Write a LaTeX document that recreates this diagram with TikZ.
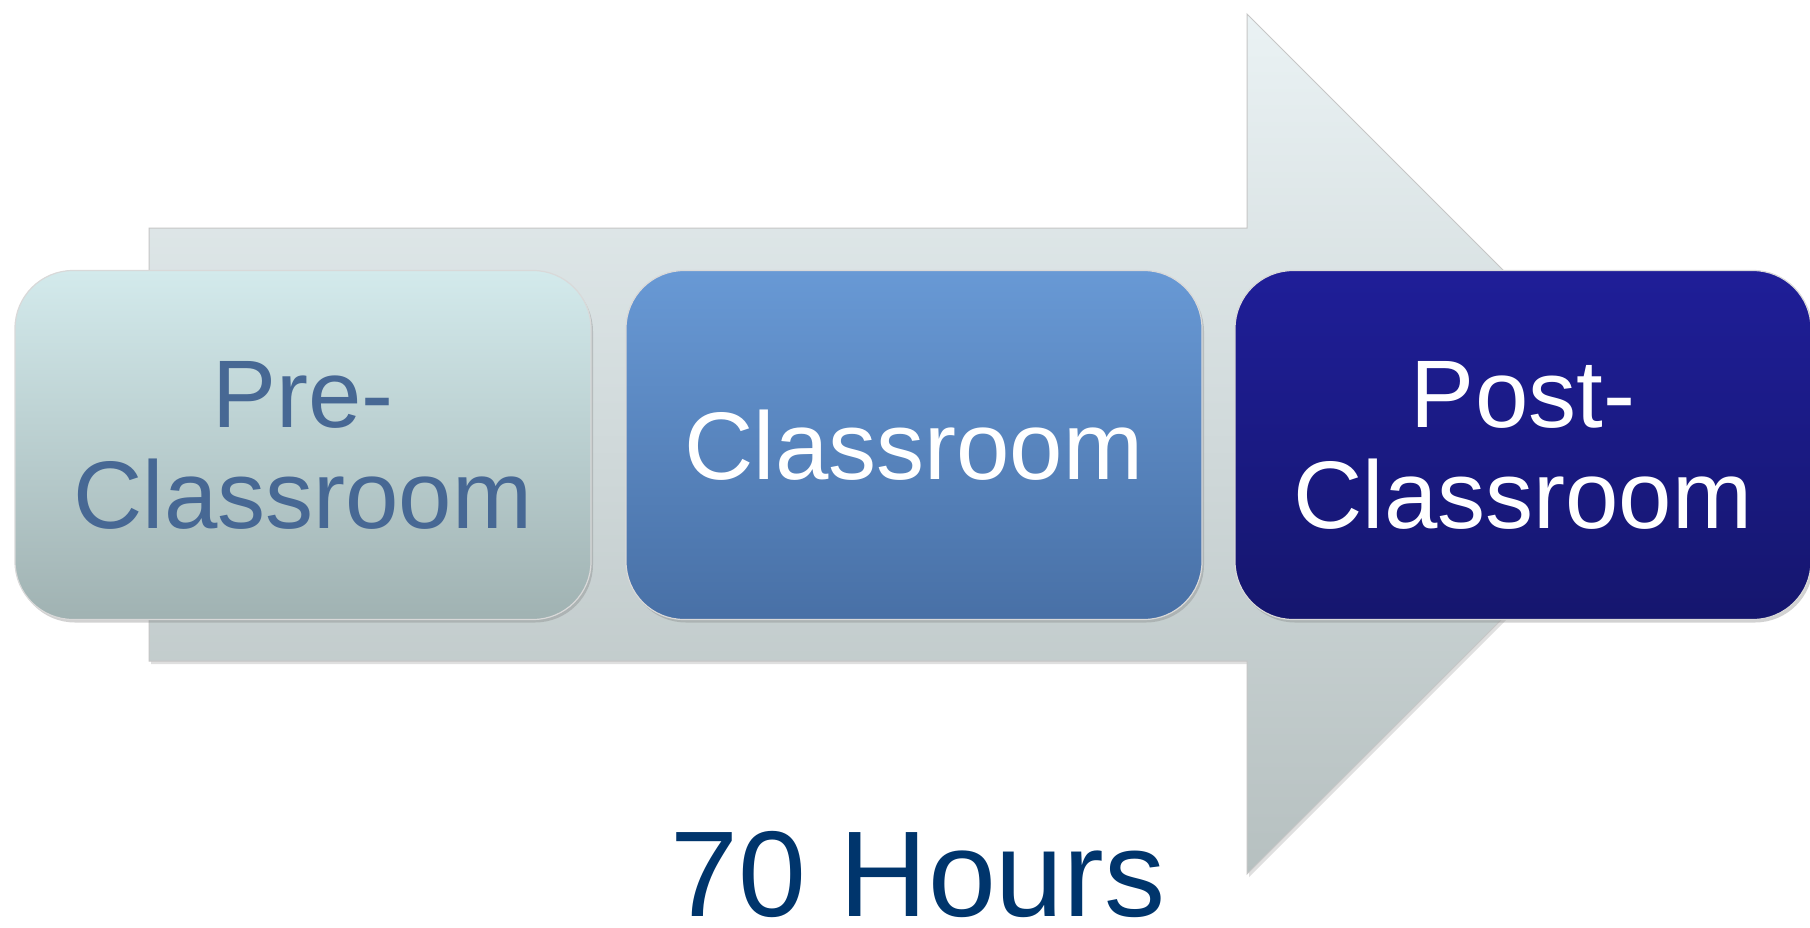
\documentclass[tikz,border=0pt]{standalone}
\usepackage{fontspec}
\setmainfont{Liberation Sans}
\usetikzlibrary{shadows}
\definecolor{arrtop}{HTML}{EAF2F4}
\definecolor{arrbot}{HTML}{B6C0C0}
\definecolor{aTop}{HTML}{D3EAEC}
\definecolor{aBot}{HTML}{A0B2B2}
\definecolor{bTop}{HTML}{6899D5}
\definecolor{bBot}{HTML}{4870A6}
\definecolor{cTop}{HTML}{1F1E98}
\definecolor{cBot}{HTML}{15166E}
\definecolor{txtA}{HTML}{476894}
\definecolor{navy}{HTML}{00356C}
\tikzset{
  stage/.style={rounded corners=58pt, minimum width=576pt, minimum height=349pt,
    align=center, inner sep=0pt, draw=white!70!gray, line width=1.2pt,
    drop shadow={opacity=0.35, shadow xshift=2pt, shadow yshift=-3pt},
    font=\fontsize{96}{101}\selectfont},
  stageA/.style={stage, top color=aTop, bottom color=aBot, text=txtA},
  stageB/.style={stage, top color=bTop, bottom color=bBot, text=white},
  stageC/.style={stage, top color=cTop, bottom color=cBot, text=white},
  bigarrow/.style={top color=arrtop, bottom color=arrbot, draw=gray!45, line width=1pt,
    drop shadow={opacity=0.25, shadow xshift=2pt, shadow yshift=-3pt}},
  hours/.style={text=navy, font=\fontsize{122}{126}\selectfont, inner sep=0pt, anchor=base}
}
\begin{document}
\begin{tikzpicture}[x=1pt,y=-1pt]
\useasboundingbox (0,0) rectangle (1810,927);
\fill[white] (0,0) rectangle (1810,927);
\path[bigarrow] (149,228) -- (1247,228) -- (1247,14) -- (1677,444) -- (1247,874) -- (1247,661) -- (149,661) -- cycle;
\node[stageA] (pre) at (303,445) {Pre-\\Classroom};
\node[stageB] (cls) at (914,445) {Classroom};
\node[stageC] (post) at (1523,445) {Post-\\Classroom};
\node[hours] (hrs) at (918,916) {70 Hours};
\end{tikzpicture}
\end{document}
